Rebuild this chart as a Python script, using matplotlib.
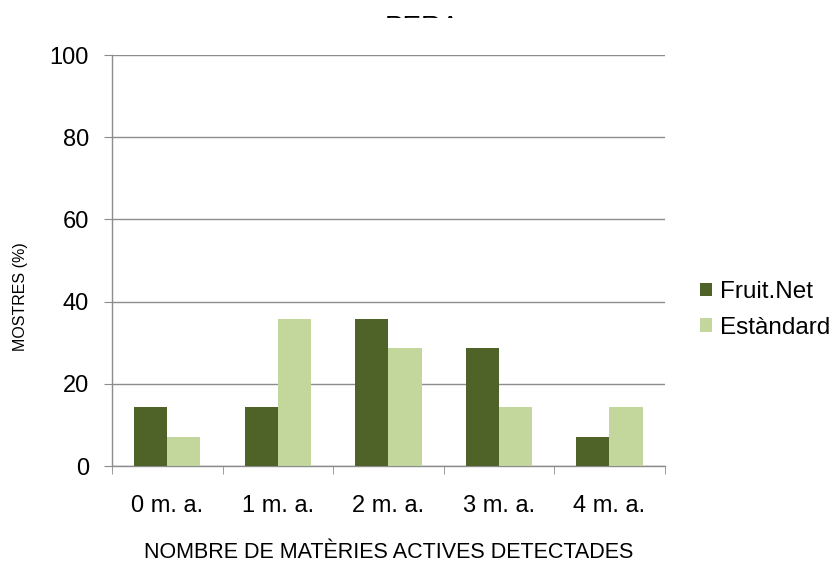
import matplotlib
matplotlib.use("Agg")
import matplotlib.pyplot as plt
from matplotlib.patches import Rectangle
import numpy as np

categories = ["0 m. a.", "1 m. a.", "2 m. a.", "3 m. a.", "4 m. a."]
fruitnet = [14.3, 14.3, 35.7, 28.6, 7.1]
estandard = [7.1, 35.7, 28.6, 14.3, 14.3]
series_names = ["Fruit.Net", "Estàndard"]
yticks = [0, 20, 40, 60, 80, 100]

plt.rcParams['font.family'] = ['Liberation Sans', 'DejaVu Sans']

fig = plt.figure(figsize=(8.34, 5.62), dpi=100)
ax = fig.add_axes([0.1343, 0.1708, 0.797 - 0.1343, 0.902 - 0.1708])

x = np.arange(len(categories))
w = 0.3
dark = "#4f6228"
light = "#c3d69b"
ax.bar(x - w/2, fruitnet, width=w, color=dark, label=series_names[0], zorder=3)
ax.bar(x + w/2, estandard, width=w, color=light, label=series_names[1], zorder=3)

ax.set_xlim(-0.5, len(categories) - 0.5)
ax.set_ylim(0, 100)
ax.set_yticks(yticks)
ax.yaxis.grid(True, color="#8c8c8c", linewidth=1.0, zorder=0)
ax.set_axisbelow(True)

for s in ["top", "right"]:
    ax.spines[s].set_visible(False)
for s in ["left", "bottom"]:
    ax.spines[s].set_color("#8c8c8c")
    ax.spines[s].set_linewidth(1.0)

ax.tick_params(axis="y", direction="out", length=5.5, color="#8c8c8c", labelsize=17, pad=11)
ax.set_xticks(x)
ax.set_xticklabels(categories, fontsize=17)
ax.tick_params(axis="x", which="major", length=0, pad=21)
ax.set_xticks(np.arange(-0.5, len(categories)), minor=True)
ax.tick_params(axis="x", which="minor", direction="out", length=6, color="#8c8c8c")

ax.set_xlabel("NOMBRE DE MATÈRIES ACTIVES DETECTADES", fontsize=15.5)
ax.xaxis.set_label_coords(0.5, -0.185)
ax.set_ylabel("MOSTRES (%)", fontsize=11.5)
ax.yaxis.set_label_coords(-0.152, 0.411)

leg = ax.legend(loc="center left", bbox_to_anchor=(1.063, 0.38), frameon=False,
                borderpad=0, borderaxespad=0,
                fontsize=17.5, handlelength=0.5, handleheight=0.5, handletextpad=0.35,
                labelspacing=0.55)

fig.text(0.506, 1 - 15/562, "PERA", ha="center", va="top", fontsize=20, color="black")
fig.patches.append(Rectangle((0, 1 - 42/562), 1, 24/562, transform=fig.transFigure,
                             facecolor="white", edgecolor="none", zorder=10))

fig.savefig("out.png", dpi=100, facecolor="white")
